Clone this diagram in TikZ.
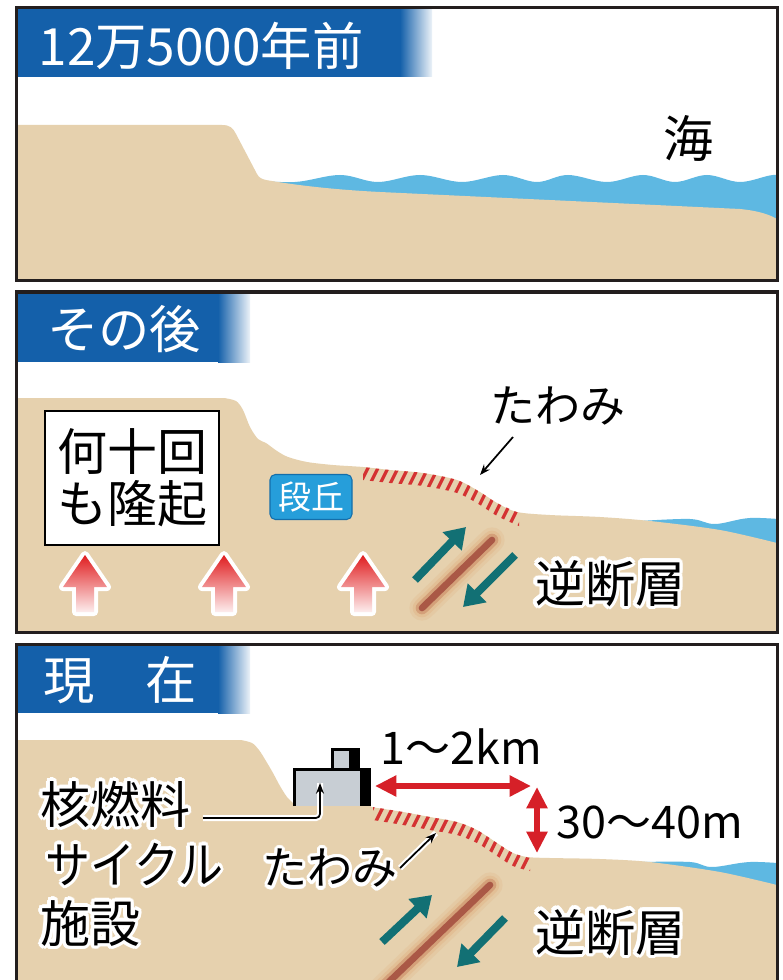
\documentclass[tikz,border=0pt]{standalone}
\usepackage{fontspec}
\usepackage{graphicx}
\setmainfont{Noto Sans CJK JP}
\usepackage[copies]{contour}
\contourlength{2.6pt}
\usetikzlibrary{arrows.meta}

\definecolor{landc}{RGB}{230,209,174}
\definecolor{seac}{RGB}{94,184,226}
\definecolor{titleblue}{RGB}{20,96,170}
\definecolor{framec}{RGB}{35,30,30}
\definecolor{redc}{RGB}{214,32,40}
\definecolor{arrowred}{RGB}{224,30,32}
\definecolor{hatchc}{RGB}{212,50,50}
\definecolor{tealc}{RGB}{18,112,116}
\definecolor{faultc}{RGB}{170,88,70}
\definecolor{glowc}{RGB}{222,168,118}
\definecolor{terracec}{RGB}{38,158,218}
\definecolor{terraceedge}{RGB}{20,110,170}
\definecolor{bldgc}{RGB}{200,206,212}

\begin{document}
\begin{tikzpicture}[x=0.75pt,y=-0.75pt,
  frame/.style={draw=framec, line width=2.25pt},
  title/.style={inner sep=0pt, text=white, font=\fontsize{38.5pt}{40pt}\selectfont},
  lbl/.style={inner sep=0pt, font=\fontsize{37.5pt}{39pt}\selectfont},
  numlbl/.style={inner sep=0pt, font=\fontsize{33.75pt}{36pt}\selectfont},
  hatchline/.style={draw=hatchc, line width=2.5pt},
  faultarrow/.style={draw=tealc, line width=6pt, -{Triangle[length=15pt,width=19pt]}},
  dimarrow/.style={draw=redc, line width=4.5pt,
    arrows={Triangle[length=16pt,width=15pt]-Triangle[length=16pt,width=15pt]}},
  pointer/.style={draw=black, line width=1.3pt, -{Stealth[length=8pt,width=6pt]}},
  casing/.style={draw=white, line width=4.5pt},
  uparrow/.pic={
    \path[draw=white, line width=6pt, line join=round]
      (0,0) -- (22,32) -- (9,32) -- (9,57) -- (-9,57) -- (-9,32) -- (-22,32) -- cycle;
    \shade[top color=arrowred, middle color=arrowred!88!white, bottom color=white!92!arrowred]
      (0,0) -- (22,32) -- (9,32) -- (9,57) -- (-9,57) -- (-9,32) -- (-22,32) -- cycle;
  },
  faultline/.style={
    preaction={draw=glowc, draw opacity=.18, line width=19pt, line cap=round},
    preaction={draw=glowc, draw opacity=.3, line width=14pt, line cap=round},
    preaction={draw=glowc!60!faultc, draw opacity=.55, line width=9.5pt, line cap=round},
    draw=faultc, line width=5pt, line cap=round}
]
\useasboundingbox (0,0) rectangle (782,980);
\fill[white] (0,0) rectangle (782,980);

% ---------- 125,000 years ago ----------
\begin{scope}
  \clip (16,8) rectangle (777,281);
  \fill[seac] plot[smooth,tension=.6] coordinates {(250,180)(295,182)(340,175)(378,182)(420,175)(462,182)(503,175)(537,182)(568,175)(607,182)(643,175)(675,182)(707,175)(740,182)(773,175)(790,178)}
    -- (790,260) -- (250,260) -- cycle;
  \fill[landc] (16,125) -- (222,125) .. controls (230,125) and (233,128) .. (236,134)
    -- (257,174) .. controls (259,178) and (262,179) .. (266,180)
    .. controls (300,186) and (340,190) .. (380,192) -- (740,209)
    .. controls (760,211) and (770,215) .. (777,219) -- (777,281) -- (16,281) -- cycle;
  \fill[titleblue] (16,8) rectangle (400,77);
  \shade[left color=titleblue, right color=titleblue!8] (400,8) rectangle (432,77);
\end{scope}
\node[title] (t1) at (201,46) {12万5000年前};
\node[lbl] (sea) at (688,138) {海};
\draw[frame] (16,8) rectangle (777,281);

% ---------- afterwards ----------
\begin{scope}
  \clip (16,292) rectangle (777,632);
  \fill[seac] plot[smooth,tension=.6] coordinates {(640,521)(690,519)(715,524)(750,518)(790,520)}
    -- (790,570) -- (640,570) -- cycle;
  \fill[landc] (16,398) -- plot[smooth,tension=.5] coordinates {(224,398)(236,401)(243,410)(250,427)(258,439)(266,443)(277,451)(288,457)(307,462)(333,465)(363,467)(390,470)(423,473)(457,480)(480,492)(497,503)(517,512)(550,515)(600,517)(650,521)(720,530)(777,543)}
    -- (777,632) -- (16,632) -- cycle;
  % flexure hatching: slanted ticks inside a thin band under the surface
  \begin{scope}
    \clip plot[smooth,tension=.5] coordinates {(363,467)(390,470)(423,473)(457,480)(480,492)(497,503)(519,513)}
      -- plot[smooth,tension=.5] coordinates {(519,526)(497,516)(480,505)(457,493)(423,486)(390,483)(363,480)} -- cycle;
    \foreach \hx in {362,372,...,580} \draw[hatchline] (\hx,440) -- ++(-45,90);
  \end{scope}
  \fill[titleblue] (16,292) rectangle (218,362);
  \shade[left color=titleblue, right color=titleblue!8] (218,292) rectangle (250,362);
  \draw[faultline] (422,608) -- (492,540);
  \draw[faultarrow] (415,580) -- (466,527);
  \draw[faultarrow] (515,555) -- (463,607);
  \pic at (85,555) {uparrow};
  \pic at (224,555) {uparrow};
  \pic at (363,555) {uparrow};
\end{scope}
\node[title] (t2) at (124,329) {その後};
\node[lbl, draw=black, line width=1.5pt, fill=white, align=center,
      minimum width=131pt, minimum height=101pt] (uplift) at (132,478) {何十回\\も隆起};
\node[inner sep=0pt, font=\fontsize{24.75pt}{26pt}\selectfont, text=white, fill=terracec, draw=terraceedge,
      line width=.8pt, rounded corners=4pt, minimum width=61.5pt, minimum height=33.75pt] (terrace) at (311,497) {段丘};
\node[lbl, font=\fontsize{33.75pt}{36pt}\selectfont] (flex2) at (558,406) {たわみ};
\coordinate (flex2S) at (513,437);
\coordinate (flex2T) at (480,475);
\draw[pointer] (flex2S) -- (flex2T);
\node[lbl] (fault2) at (610,585) {\contour{white}{逆断層}};
\draw[frame] (16,292) rectangle (777,632);

% ---------- present ----------
\begin{scope}
  \clip (16,644) rectangle (777,990);
  \fill[seac] plot[smooth,tension=.6] coordinates {(640,862)(690,862)(712,867)(750,862)(790,864)}
    -- (790,910) -- (640,910) -- cycle;
  \fill[landc] (16,740) -- plot[smooth,tension=.5] coordinates {(241,740)(252,743)(259,750)(266,761)(273,773)(280,786)(287,797)(294,804)}
    -- (294,806) -- (371,806) -- plot[smooth,tension=.5] coordinates {(371,807)(403,812)(430,817)(457,822)(477,830)(497,843)(513,853)(527,857)(550,858)(600,859)(650,862)(720,872)(777,885)}
    -- (777,990) -- (16,990) -- cycle;
  \begin{scope}
    \clip plot[smooth,tension=.5] coordinates {(373,807)(403,812)(430,817)(457,822)(477,830)(497,843)(513,853)(530,858)}
      -- plot[smooth,tension=.5] coordinates {(530,871)(513,866)(497,856)(477,843)(457,835)(430,830)(403,825)(373,820)} -- cycle;
    \foreach \hx in {374,384,...,590} \draw[hatchline] (\hx,785) -- ++(-45,90);
  \end{scope}
  \fill[titleblue] (16,644) rectangle (218,713);
  \shade[left color=titleblue, right color=titleblue!8] (218,644) rectangle (250,713);
  % facility building
  \fill[bldgc] (293,768) rectangle (360,806);
  \fill[black] (360,768) rectangle (371,806);
  \draw[black, line width=2.25pt] (294.5,806) -- (294.5,769.5) -- (360,769.5);
  \fill[bldgc] (331,748) rectangle (349,768);
  \fill[black] (349,748) rectangle (360,768);
  \draw[black, line width=2.25pt] (332.5,768) -- (332.5,749.5) -- (360,749.5);
  \draw[faultline] (370,1000) -- (490,885);
  \draw[faultarrow] (382,942) -- (432,895);
  \draw[faultarrow] (505,918) -- (457,967);
\end{scope}
\node[title] (t3) at (120,680) {現　在};
\node[lbl, anchor=west] (fac1) at (40,806) {\contour{white}{核燃料}};
\node[lbl, anchor=west] (fac2) at (45,866) {\scalebox{0.9}[1]{\contour{white}{サイクル}}};
\node[lbl, anchor=west] (fac3) at (40,925) {\contour{white}{施設}};
\coordinate (ldrS) at (203,818);
\coordinate (ldrT) at (320,783);
\draw[casing, rounded corners=3pt] (ldrS) -| (ldrT);
\draw[pointer, rounded corners=3pt] (ldrS) -| (ldrT);
\node[numlbl] (dist) at (461,747) {1～2km};
\coordinate (dimL) at (375,786);
\coordinate (dimR) at (531,786);
\draw[dimarrow] (dimL) -- (dimR);
\coordinate (dimT) at (537,787);
\coordinate (dimB) at (537,853);
\draw[dimarrow] (dimT) -- (dimB);
\node[numlbl] (height) at (650,822) {30～40m};
\node[lbl, font=\fontsize{33.75pt}{36pt}\selectfont] (flex3) at (330,870) {\contour{white}{たわみ}};
\coordinate (flex3S) at (400,868);
\coordinate (flex3T) at (436,833);
\draw[casing] (flex3S) -- (flex3T);
\draw[pointer] (flex3S) -- (flex3T);
\node[lbl] (fault3) at (610,934) {\contour{white}{逆断層}};
\draw[frame] (16,990) -- (16,644) -- (777,644) -- (777,990);
\end{tikzpicture}
\end{document}
